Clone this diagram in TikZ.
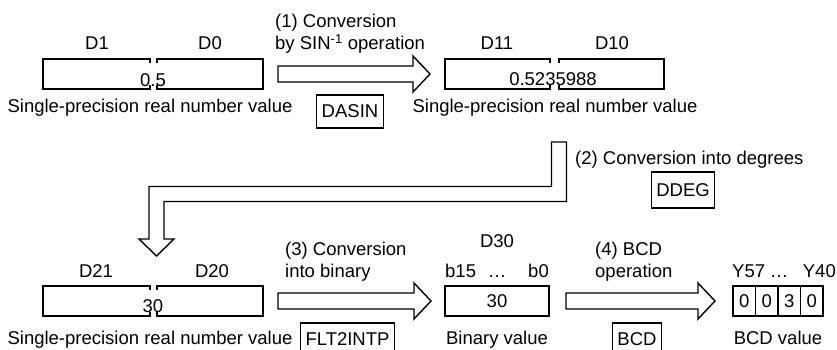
\documentclass[tikz,border=0pt]{standalone}
\usepackage{fontspec}
\setmainfont{Liberation Sans}
\usetikzlibrary{calc}

% register made of two halves: left, gap-left, gap-right, right, top, bottom
\newcommand{\splitreg}[6]{%
  \draw[regline] (#2,#5+4) -- (#2,#5) -- (#1,#5) -- (#1,#6) -- (#2,#6) -- (#2,#6-4);
  \draw[regline] (#3,#5+4) -- (#3,#5) -- (#4,#5) -- (#4,#6) -- (#3,#6) -- (#3,#6-4);}

% hollow arrow from one named point to another
\newcommand{\blockarrow}[2]{%
  \draw[arrowline] ($(#1)+(0,-8)$) -- ($(#2)+(-17,-8)$) -- ($(#2)+(-17,-18)$) -- (#2)
    -- ($(#2)+(-17,18)$) -- ($(#2)+(-17,8)$) -- ($(#1)+(0,8)$) -- cycle;}

\begin{document}
\begin{tikzpicture}[x=1pt, y=-1pt,
    txt/.style={font=\fontsize{18.5}{22}\selectfont, inner sep=0pt},
    regline/.style={line width=1.5pt},
    arrowline/.style={line width=1.4pt, line join=miter},
    opbox/.style={draw, line width=1.5pt, font=\fontsize{18.5}{22}\selectfont,
      inner xsep=5pt, inner ysep=0pt, minimum height=33pt}]
    \clip (0,0) rectangle (837,350);
    % D1 D0
    \splitreg{43}{150}{157}{263}{59}{89}
    \node[txt, anchor=base] (d1) at (97,50) {D1};
    \node[txt, anchor=base] (d0) at (210,50) {D0};
    \node[txt, anchor=base] (val0) at (153,87) {0.5};
    \node[txt, anchor=base] (type0) at (150,113) {Single-precision real number value};
    % (1) DASIN
    \coordinate (a1s) at (278,74);
    \coordinate (a1e) at (430,74);
    \blockarrow{a1s}{a1e}
    \node[txt, anchor=base west] (step1a) at (275,28) {(1) Conversion};
    \node[txt, anchor=base west] (step1b) at (275,50) {by SIN\textsuperscript{-1} operation};
    \node[opbox] (dasin) at (350,111.5) {DASIN};
    % D11 D10
    \splitreg{445}{550}{559}{664}{59}{89}
    \node[txt, anchor=base] (d11) at (497,50) {D11};
    \node[txt, anchor=base] (d10) at (612,50) {D10};
    \node[txt, anchor=base] (val1) at (553,86) {0.5235988};
    \node[txt, anchor=base] (type1) at (555,113) {Single-precision real number value};
    % (2) DDEG, bent arrow
    \draw[arrowline] (551.5,142) -- (566.5,142) -- (566.5,201.5) -- (164,201.5) -- (164,239)
      -- (174,239) -- (156.5,256) -- (139,239) -- (149,239) -- (149,186.5) -- (551.5,186.5) -- cycle;
    \node[txt, anchor=base west] (step2) at (575,164) {(2) Conversion into degrees};
    \node[opbox, minimum height=36pt] (ddeg) at (683,190) {DDEG};
    % D21 D20
    \splitreg{43}{150}{157}{263}{286}{316}
    \node[txt, anchor=base] (d21) at (96,277) {D21};
    \node[txt, anchor=base] (d20) at (212,277) {D20};
    \node[txt, anchor=base] (val2) at (153,312) {30};
    \node[txt, anchor=base] (type2) at (150,344) {Single-precision real number value};
    % (3) FLT2INTP
    \coordinate (a3s) at (278,301);
    \coordinate (a3e) at (431,301);
    \blockarrow{a3s}{a3e}
    \node[txt, anchor=base west] (step3a) at (285,255) {(3) Conversion};
    \node[txt, anchor=base west] (step3b) at (285,277) {into binary};
    \node[opbox] (flt) at (347.5,339.5) {FLT2INTP};
    % D30
    \node[txt, anchor=base] (d30) at (497,247) {D30};
    \node[txt, anchor=base west] (b15) at (445,277) {b15};
    \node[txt, anchor=base] (bdots) at (497,277) {…};
    \node[txt, anchor=base east] (b0) at (549,277) {b0};
    \draw[regline] (445,286) rectangle (549,316);
    \node[txt] (val3) at (497,301) {30};
    \node[txt, anchor=base] (type3) at (497,344) {Binary value};
    % (4) BCD
    \coordinate (a4s) at (566,301);
    \coordinate (a4e) at (715,301);
    \blockarrow{a4s}{a4e}
    \node[txt, anchor=base west] (step4a) at (595,255) {(4) BCD};
    \node[txt, anchor=base west] (step4b) at (595,277) {operation};
    \node[opbox] (bcd) at (637,339.5) {BCD};
    % Y57 ... Y40
    \node[txt, anchor=base west] (y57) at (732,277) {Y57};
    \node[txt, anchor=base] (ydots) at (779,277) {…};
    \node[txt, anchor=base east] (y40) at (836,277) {Y40};
    \foreach \i/\d in {0/0,1/0,2/3,3/0} {
      \draw[regline] (733+22.5*\i,286) rectangle ++(22.5,30);
      \node[txt] (cell\i) at (744.25+22.5*\i,301) {\d};
    }
    \node[txt, anchor=base] (type4) at (778,344) {BCD value};
\end{tikzpicture}
\end{document}
